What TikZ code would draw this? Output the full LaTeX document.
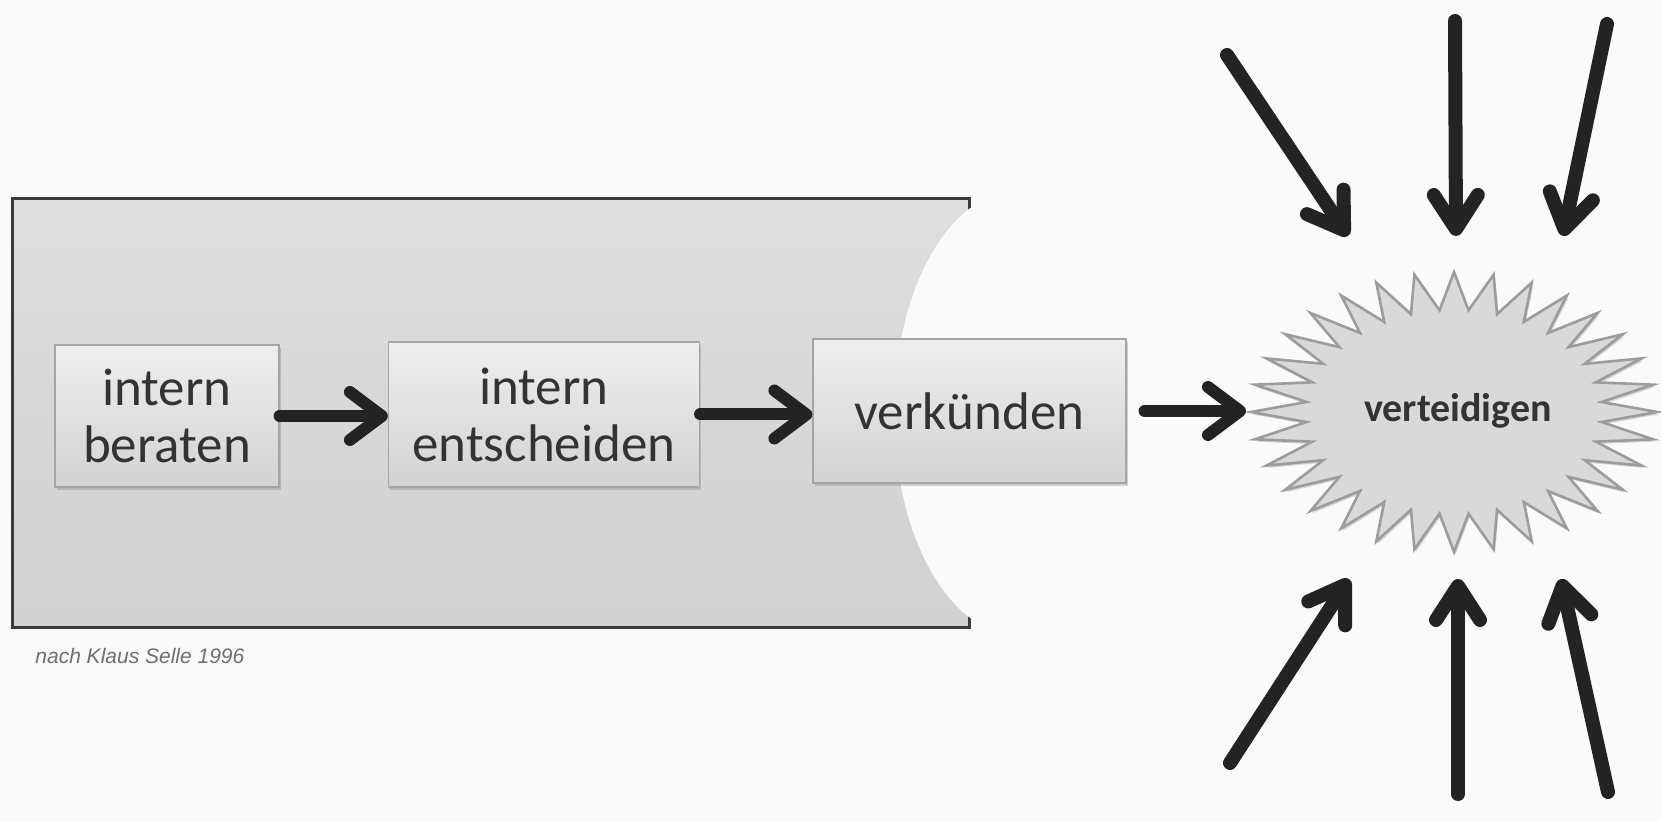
\documentclass[tikz,border=0pt]{standalone}
\usepackage{fontspec}
\setmainfont{Carlito}
\newfontfamily\capfont{Liberation Sans}
\usetikzlibrary{arrows.meta,shadows}
\definecolor{bg}{HTML}{FAFAFA}
\definecolor{paneltop}{HTML}{DEDEDE}
\definecolor{panelbot}{HTML}{D1D1D1}
\definecolor{panelline}{HTML}{3A3A3A}
\definecolor{boxtop}{HTML}{EEEEEE}
\definecolor{boxbot}{HTML}{D3D3D3}
\definecolor{boxline}{HTML}{A5A5A5}
\definecolor{txt}{HTML}{333333}
\definecolor{arrowc}{HTML}{232323}
\definecolor{starfill}{HTML}{D9D9D9}
\definecolor{starline}{HTML}{9C9C9C}
\definecolor{capc}{HTML}{6E6E6E}
\begin{document}
\begin{tikzpicture}[x=0.5pt,y=-0.5pt,
  stepbox/.style={draw=boxline, line width=0.6pt, top color=boxtop, bottom color=boxbot,
    inner sep=0pt, text=txt, font=\fontsize{26.5}{28.5}\selectfont, align=center,
    drop shadow={shadow xshift=0.8pt, shadow yshift=-1.4pt, opacity=0.35}},
  flow/.style={draw=arrowc, line width=6pt, line cap=round, line join=round,
    -{Straight Barb[round,length=16pt,width=24pt]}},
  press/.style={draw=arrowc, line width=7pt, line cap=round, line join=round,
    -{Straight Barb[round,length=17pt,width=22pt]}},
  burst/.style={draw=starline, line width=1.3pt, fill=starfill, line join=miter,
    drop shadow={shadow xshift=0.8pt, shadow yshift=-1.2pt, opacity=0.3}},
  startext/.style={text=txt, font=\bfseries\fontsize{20}{24}\selectfont, inner sep=0pt},
  captext/.style={text=capc, font=\capfont\itshape\fontsize{10.5}{12}\selectfont, inner sep=0pt}
]
% background / bounding box
\fill[bg] (0,0) rectangle (1661,822);
\useasboundingbox (0,0) rectangle (1661,822);

% panel
\fill[top color=paneltop, bottom color=panelbot] (12,199) rectangle (969,628);
\draw[panelline, line width=1.5pt] (12,199) rectangle (969,628);
\fill[bg] (1018,413) ellipse [x radius=124, y radius=222];

% boxes
\node[stepbox, minimum width=112pt, minimum height=71pt] (b1) at (167,416) {intern\\beraten};
\node[stepbox, minimum width=155.5pt, minimum height=72.5pt] (b2) at (544,414.5) {intern\\entscheiden};
\node[stepbox, minimum width=156.5pt, minimum height=72pt] (b3) at (969.5,411) {verkünden};

% star
\draw[burst] (1454+203,412)
  \foreach \i in {1,...,63}{
    -- ({1454+203*(1-0.27*mod(\i,2))*cos(\i*5.625)},{412+140*(1-0.27*mod(\i,2))*sin(\i*5.625)})
  } -- cycle;
\node[startext] (vt) at (1458,411) {verteidigen};
\coordinate (starW) at (1246,411);

% flow arrows
\draw[flow] (b1.east) -- (b1.east -| b2.west);
\draw[flow] (b2.east) -- (b2.east -| b3.west);
\draw[flow] ([xshift=9pt]b3.east) -- (starW);

% pressure arrows
\coordinate (a1s) at (1227,55);  \coordinate (a1e) at (1348,236);
\coordinate (a2s) at (1455,21);  \coordinate (a2e) at (1456,236);
\coordinate (a3s) at (1607,24);  \coordinate (a3e) at (1563,236);
\coordinate (a4s) at (1230,763); \coordinate (a4e) at (1349,579);
\coordinate (a5s) at (1458,794); \coordinate (a5e) at (1458,579);
\coordinate (a6s) at (1608,792); \coordinate (a6e) at (1561,579);
\draw[press] (a1s) -- (a1e);
\draw[press] (a2s) -- (a2e);
\draw[press] (a3s) -- (a3e);
\draw[press] (a4s) -- (a4e);
\draw[press] (a5s) -- (a5e);
\draw[press] (a6s) -- (a6e);

% caption
\node[captext, anchor=base west] (cap) at (35,664) {nach Klaus Selle 1996};
\end{tikzpicture}
\end{document}
